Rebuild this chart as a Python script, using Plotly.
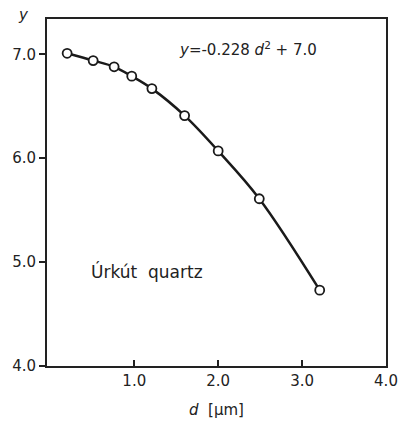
import plotly.graph_objects as go

d_um = [0.20, 0.51, 0.76, 0.97, 1.21, 1.60, 2.00, 2.49, 3.21]
y_vals = [7.01, 6.94, 6.88, 6.79, 6.67, 6.41, 6.07, 5.61, 4.73]
x_ticks = [1.0, 2.0, 3.0, 4.0]
x_tick_labels = ["1.0", "2.0", "3.0", "4.0"]
y_ticks = [4.0, 5.0, 6.0, 7.0]
y_tick_labels = ["4.0", "5.0", "6.0", "7.0"]

font_family = "DejaVu Sans"
txt = "#222222"

fig = go.Figure()
fig.add_trace(go.Scatter(
    x=d_um, y=y_vals, mode="lines+markers",
    line=dict(color="#1a1a1a", width=2.5, shape="spline"),
    marker=dict(symbol="circle", size=9, color="white",
                line=dict(color="#1a1a1a", width=1.8)),
    showlegend=False,
))

fig.update_layout(
    width=410, height=421,
    margin=dict(l=46, r=12, t=19, b=55),
    paper_bgcolor="white", plot_bgcolor="white",
    font=dict(family=font_family, size=14, color=txt),
    xaxis=dict(range=[-0.04, 4.0], tickvals=x_ticks, ticktext=x_tick_labels,
               ticks="inside", ticklen=6, tickwidth=1.5, tickcolor="#222",
               showline=True, linecolor="#222", linewidth=2, mirror=True,
               showgrid=False, zeroline=False,
               tickfont=dict(size=15, color=txt)),
    yaxis=dict(range=[4.0, 7.34], tickvals=y_ticks, ticktext=y_tick_labels,
               ticks="outside", ticklen=6, tickwidth=1.5, tickcolor="#222",
               showline=True, linecolor="#222", linewidth=2, mirror=True,
               showgrid=False, zeroline=False,
               tickfont=dict(size=15, color=txt)),
    annotations=[
        dict(text="<i>y</i>", xref="paper", yref="paper", x=-0.068, y=1.012,
             xanchor="center", yanchor="middle", showarrow=False,
             font=dict(size=15, color=txt)),
        dict(text="<i>d</i>  [µm]", xref="paper", yref="paper", x=0.5, y=-0.095,
             xanchor="center", yanchor="top", showarrow=False,
             font=dict(size=15, color=txt)),
        dict(text="<i>y</i>=-0.228 <i>d</i><sup>2</sup> + 7.0", xref="x", yref="y",
             x=2.35, y=7.05, xanchor="center", yanchor="middle", showarrow=False,
             font=dict(size=15, color=txt)),
        dict(text="Úrkút  quartz", xref="x", yref="y",
             x=1.15, y=4.91, xanchor="center", yanchor="middle", showarrow=False,
             font=dict(size=17, color=txt)),
    ],
)

fig.write_html("out.html")
